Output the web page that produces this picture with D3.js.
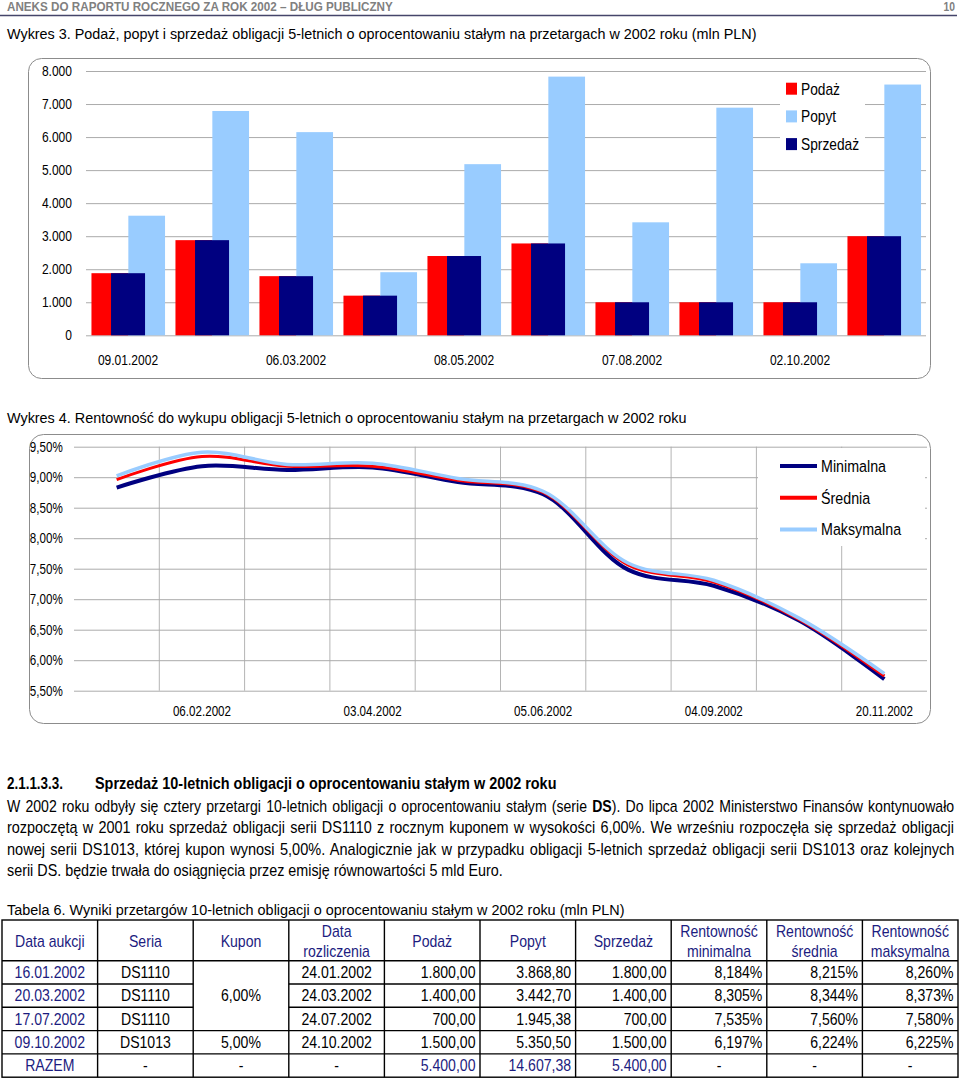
<!DOCTYPE html>
<html>
<head>
<meta charset="utf-8">
<script src="https://cdn.jsdelivr.net/npm/d3@7"></script>
<style>
body { margin: 0; background: #fff; }
svg { display: block; }
text { font-family: "Liberation Sans", Arial, sans-serif; }
</style>
</head>
<body>
<div id="page"></div>
<script>
// auction dates of 5-year bonds (both charts share them)
var dates = ["09.01.2002", "06.02.2002", "06.03.2002", "03.04.2002", "08.05.2002",
             "05.06.2002", "07.08.2002", "04.09.2002", "02.10.2002", "20.11.2002"];

// Wykres 3 (mln PLN)
var podaz    = [1880, 2880, 1790, 1200, 2400, 2780, 1000, 1000, 1000, 3000];
var popyt    = [3620, 6790, 6150, 1910, 5180, 7830, 3420, 6890, 2180, 7590];
var sprzedaz = [1880, 2880, 1790, 1200, 2400, 2780, 1000, 1000, 1000, 3000];
var barTicks = [0, 1000, 2000, 3000, 4000, 5000, 6000, 7000, 8000];

// Wykres 4 (%)
var rentMin = [8.83, 9.18, 9.12, 9.16, 8.92, 8.72, 7.48, 7.22, 6.65, 5.69];
var rentSr  = [8.96, 9.34, 9.18, 9.18, 8.95, 8.75, 7.56, 7.28, 6.67, 5.74];
var rentMax = [9.02, 9.41, 9.21, 9.23, 8.98, 8.77, 7.59, 7.31, 6.69, 5.78];
var rentTicks = [5.5, 6, 6.5, 7, 7.5, 8, 8.5, 9, 9.5];

// Tabela 6
var tabHeaders = [["Data aukcji"], ["Seria"], ["Kupon"], ["Data", "rozliczenia"], ["Podaż"],
                  ["Popyt"], ["Sprzedaż"], ["Rentowność", "minimalna"], ["Rentowność", "średnia"],
                  ["Rentowność", "maksymalna"]];
var tabDates   = ["16.01.2002", "20.03.2002", "17.07.2002", "09.10.2002"];
var tabSeria   = ["DS1110", "DS1110", "DS1110", "DS1013"];
var tabKupon   = ["6,00%", "5,00%"];   // first one spans the three DS1110 rows
var tabRozl    = ["24.01.2002", "24.03.2002", "24.07.2002", "24.10.2002"];
var tabPodaz   = [1800, 1400, 700, 1500];
var tabPopyt   = [3868.80, 3442.70, 1945.38, 5350.50];
var tabSprz    = [1800, 1400, 700, 1500];
var tabRMin    = [8.184, 8.305, 7.535, 6.197];
var tabRSr     = [8.215, 8.344, 7.560, 6.224];
var tabRMax    = [8.260, 8.373, 7.580, 6.225];

var para = [
  "W 2002 roku odbyły się cztery przetargi 10-letnich obligacji o oprocentowaniu stałym (serie |DS|). Do lipca 2002 Ministerstwo Finansów kontynuowało",
  "rozpoczętą w 2001 roku sprzedaż obligacji serii DS1110 z rocznym kuponem w wysokości 6,00%. We wrześniu rozpoczęła się sprzedaż obligacji",
  "nowej serii DS1013, której kupon wynosi 5,00%. Analogicznie jak w przypadku obligacji 5-letnich sprzedaż obligacji serii DS1013 oraz kolejnych",
  "serii DS. będzie trwała do osiągnięcia przez emisję równowartości 5 mld Euro."
];

var RED = "#ff0000", LBLUE = "#99ccff", NAVY = "#000080", TXTBLUE = "#1c1c80";
var SX = 0.86; // the page is set in a condensed face

var pl = d3.formatLocale({decimal: ",", thousands: ".", grouping: [3], currency: ["", " zł"]});
var fmtInt = pl.format(",d"), fmtMoney = pl.format(",.2f"), fmtPct = pl.format(".3f");

var svg = d3.select("#page").append("svg")
    .attr("width", 960)
    .attr("height", 1079);

function label(g, x, y, s, o) {
  o = o || {};
  return g.append("text")
      .attr("transform", "translate(" + x + "," + y + ") scale(" + (o.sx || SX) + ",1)")
      .attr("text-anchor", o.anchor || "start")
      .attr("font-size", o.size || 14)
      .attr("font-weight", o.weight || null)
      .attr("fill", o.fill || "#000")
      .text(s);
}

// squeeze a text line to width w; justified lines squeeze a bit less and widen the word gaps
function fitted(x, y, s, w, size, weight, fill, justify) {
  var t = svg.append("text")
      .attr("font-size", size)
      .attr("font-weight", weight || null)
      .attr("fill", fill || "#000");
  // parts between | | are bold
  s.split("|").forEach(function(part, i) {
    t.append("tspan").attr("font-weight", i % 2 ? "bold" : null).text(part);
  });
  var len = t.node().getComputedTextLength();
  var sx = w / len;
  if (justify) {
    sx = sx * 0.975;
    var gaps = s.split(" ").length - 1;
    t.attr("word-spacing", (w / sx - len) / gaps);
  }
  t.attr("transform", "translate(" + x + "," + y + ") scale(" + sx + ",1)");
  return t;
}

// ---------- page header ----------
fitted(7, 11, "ANEKS DO RAPORTU ROCZNEGO ZA ROK 2002 – DŁUG PUBLICZNY", 386, 12, "bold", "#808080");
label(svg, 955, 11, "10", {anchor: "end", size: 12, weight: "bold", fill: "#808080"});
svg.append("line").attr("x1", 0).attr("x2", 957).attr("y1", 15.5).attr("y2", 15.5)
    .attr("stroke", "#45456a").attr("stroke-width", 1.5);

// ---------- Wykres 3 ----------
fitted(7, 39, "Wykres 3. Podaż, popyt i sprzedaż obligacji 5-letnich o oprocentowaniu stałym na przetargach w 2002 roku (mln PLN)", 750, 15);

svg.append("rect").attr("x", 28.5).attr("y", 58.5).attr("width", 902).attr("height", 320)
    .attr("rx", 13).attr("fill", "none").attr("stroke", "#8c8c8c");

var c1 = svg.append("g");
var x1 = d3.scaleBand().domain(dates).range([86, 926]);
var y1 = d3.scaleLinear().domain([0, 8000]).range([335.3, 71]);

var ax1 = c1.append("g")
    .attr("transform", "translate(86,0)")
    .call(d3.axisLeft(y1).tickValues(barTicks).tickSize(-840).tickFormat(fmtInt));
ax1.select(".domain").remove();
ax1.selectAll("line").attr("stroke", "#ababab");
ax1.selectAll("text")
    .attr("x", -14 / SX).attr("transform", "scale(" + SX + ",1)")
    .attr("font-size", 14).attr("font-family", null).attr("fill", "#000");

var bx1 = c1.append("g")
    .attr("transform", "translate(0,335.3)")
    .call(d3.axisBottom(x1).tickValues(dates.filter(function(d, i) { return i % 2 == 0; }))
      .tickSize(0).tickPadding(19.7));
bx1.select(".domain").remove();
bx1.selectAll("text")
    .attr("transform", "scale(" + SX + ",1)")
    .attr("font-size", 14).attr("font-family", null).attr("fill", "#000");
bx1.selectAll(".tick").each(function() {
  var t = d3.select(this), tr = t.attr("transform");
  var xx = +tr.match(/translate\(([-\d.]+)/)[1];
  t.attr("transform", "translate(" + xx + ",0)");
  t.select("text").attr("x", 0);
});

var bw = x1.bandwidth();
var barSeries = [
  {vals: podaz,    color: RED,   off: 0.065, w: 0.435},
  {vals: popyt,    color: LBLUE, off: 0.504, w: 0.437},
  {vals: sprzedaz, color: NAVY,  off: 0.298, w: 0.405}
];
barSeries.forEach(function(s) {
  c1.append("g").selectAll("rect")
    .data(s.vals)
    .enter().append("rect")
      .attr("x", function(d, i) { return x1(dates[i]) + s.off * bw; })
      .attr("width", s.w * bw)
      .attr("y", function(d) { return y1(d); })
      .attr("height", function(d) { return y1(0) - y1(d); })
      .attr("fill", s.color);
});

// legend
c1.append("rect").attr("x", 780).attr("y", 74).attr("width", 85).attr("height", 80).attr("fill", "#fff");
[["Podaż", RED], ["Popyt", LBLUE], ["Sprzedaż", NAVY]].forEach(function(it, i) {
  var cy = 88.7 + i * 27.7;
  c1.append("rect").attr("x", 786).attr("y", cy - 6).attr("width", 11).attr("height", 12).attr("fill", it[1]);
  label(c1, 801, cy + 6, it[0], {size: 16});
});

// ---------- Wykres 4 ----------
fitted(7, 423, "Wykres 4. Rentowność do wykupu obligacji 5-letnich o oprocentowaniu stałym na przetargach w 2002 roku", 680, 15);

svg.append("rect").attr("x", 29.5).attr("y", 434.5).attr("width", 901).attr("height", 289)
    .attr("rx", 14).attr("fill", "none").attr("stroke", "#8c8c8c");

var c2 = svg.append("g");
var x2 = d3.scaleBand().domain(dates).range([74, 927]);
var y2 = d3.scaleLinear().domain([5.5, 9.5]).range([690.7, 446.7]);
var bw2 = x2.bandwidth();

c2.append("g").selectAll("line")
  .data(dates.slice(1))
  .enter().append("line")
    .attr("x1", function(d) { return x2(d); })
    .attr("x2", function(d) { return x2(d); })
    .attr("y1", y2(9.5)).attr("y2", y2(5.5))
    .attr("stroke", "#b4b4b4");

var ax2 = c2.append("g")
    .attr("transform", "translate(74,0)")
    .call(d3.axisLeft(y2).tickValues(rentTicks).tickSize(-853)
      .tickFormat(function(d) { return pl.format(".2f")(d) + "%"; }));
ax2.select(".domain").remove();
ax2.selectAll("line").attr("stroke", "#ababab");
ax2.selectAll("text")
    .attr("x", -11.3 / 0.8).attr("transform", "scale(0.8,1)")
    .attr("font-size", 14.5).attr("font-family", null).attr("fill", "#000");

var bx2 = c2.append("g")
    .attr("transform", "translate(0,690.7)")
    .call(d3.axisBottom(x2).tickValues(dates.filter(function(d, i) { return i % 2 == 1; }))
      .tickSize(0).tickPadding(15.8));
bx2.select(".domain").remove();
bx2.selectAll("text")
    .attr("transform", "scale(0.83,1)")
    .attr("font-size", 14).attr("font-family", null).attr("fill", "#000");
bx2.selectAll(".tick").each(function() {
  var t = d3.select(this), tr = t.attr("transform");
  var xx = +tr.match(/translate\(([-\d.]+)/)[1];
  t.attr("transform", "translate(" + xx + ",0)");
});

var line = d3.line()
    .x(function(d, i) { return x2(dates[i]) + bw2 / 2; })
    .y(function(d) { return y2(d); })
    .curve(d3.curveCatmullRom.alpha(0.5));

var lineSeries = [
  {name: "Minimalna", vals: rentMin, color: NAVY,  w: 4},
  {name: "Średnia",   vals: rentSr,  color: RED,   w: 3},
  {name: "Maksymalna", vals: rentMax, color: LBLUE, w: 3.5}
];
lineSeries.forEach(function(s) {
  c2.append("path")
      .datum(s.vals)
      .attr("d", line)
      .attr("fill", "none")
      .attr("stroke", s.color)
      .attr("stroke-width", s.w);
});

c2.append("rect").attr("x", 758).attr("y", 448).attr("width", 167).attr("height", 98).attr("fill", "#fff");
lineSeries.forEach(function(s, i) {
  var cy = 466 + i * 31.7;
  c2.append("line").attr("x1", 780).attr("x2", 817).attr("y1", cy).attr("y2", cy)
      .attr("stroke", s.color).attr("stroke-width", 4);
  label(c2, 821, cy + 6, s.name, {size: 17, sx: 0.84});
});

// ---------- section text ----------
fitted(7, 789, "2.1.1.3.3.", 56, 16, "bold");
fitted(95, 789, "Sprzedaż 10-letnich obligacji o oprocentowaniu stałym w 2002 roku", 462, 16, "bold");
para.forEach(function(s, i) {
  if (i < 3) fitted(7, 812 + i * 21.3, s, 948, 16, null, null, true);
  else fitted(7, 812 + i * 21.3, s, 496, 16);
});

// ---------- Tabela 6 ----------
fitted(7, 915, "Tabela 6. Wyniki przetargów 10-letnich obligacji o oprocentowaniu stałym w 2002 roku (mln PLN)", 618, 15);

var tg = svg.append("g");
var col = d3.scaleBand().domain(d3.range(10)).range([2, 958]);
var cw = col.bandwidth();
var rowTop = 960.7, rowH = 23.3, tabTop = 920, nRows = 5;
var tabBottom = rowTop + nRows * rowH;

tg.append("rect").attr("x", 2).attr("y", tabTop).attr("width", 956).attr("height", tabBottom - tabTop)
    .attr("fill", "none").attr("stroke", "#000").attr("stroke-width", 1.4);
tg.selectAll(".vl").data(d3.range(1, 10)).enter().append("line")
    .attr("x1", function(d) { return col(d); }).attr("x2", function(d) { return col(d); })
    .attr("y1", tabTop).attr("y2", tabBottom)
    .attr("stroke", "#000").attr("stroke-width", 1.4);
d3.range(nRows).forEach(function(r) {
  var yy = rowTop + r * rowH;
  var merged = (r == 1 || r == 2);
  [[2, merged ? col(2) : 958], merged ? [col(3), 958] : null].forEach(function(seg) {
    if (!seg) return;
    tg.append("line").attr("x1", seg[0]).attr("x2", seg[1]).attr("y1", yy).attr("y2", yy)
        .attr("stroke", "#000").attr("stroke-width", 1.4);
  });
});

var TS = 16, TSX = 0.88;
tabHeaders.forEach(function(h, i) {
  var cx = col(i) + cw / 2;
  if (h.length == 1) {
    label(tg, cx, 946.5, h[0], {anchor: "middle", size: TS, sx: TSX, fill: TXTBLUE});
  } else {
    label(tg, cx, 936.5, h[0], {anchor: "middle", size: TS, sx: TSX, fill: TXTBLUE});
    label(tg, cx, 956.5, h[1], {anchor: "middle", size: TS, sx: TSX, fill: TXTBLUE});
  }
});

function cell(r, c, s, how, fill) {
  var yy = rowTop + r * rowH + rowH / 2 + 5.7;
  if (how == "end") label(tg, col(c) + cw - 4.5, yy, s, {anchor: "end", size: TS, sx: TSX, fill: fill});
  else label(tg, col(c) + cw / 2, yy, s, {anchor: "middle", size: TS, sx: TSX, fill: fill});
}

tabDates.forEach(function(d, r) {
  cell(r, 0, d, "middle", TXTBLUE);
  cell(r, 1, tabSeria[r], "middle");
  cell(r, 3, tabRozl[r], "middle");
  cell(r, 4, fmtMoney(tabPodaz[r]), "end");
  cell(r, 5, fmtMoney(tabPopyt[r]), "end");
  cell(r, 6, fmtMoney(tabSprz[r]), "end");
  cell(r, 7, fmtPct(tabRMin[r]) + "%", "end");
  cell(r, 8, fmtPct(tabRSr[r]) + "%", "end");
  cell(r, 9, fmtPct(tabRMax[r]) + "%", "end");
});
label(tg, col(2) + cw / 2, rowTop + 1.5 * rowH + 5.7, tabKupon[0], {anchor: "middle", size: TS, sx: TSX});
cell(3, 2, tabKupon[1], "middle");

// RAZEM row
cell(4, 0, "RAZEM", "middle", TXTBLUE);
[1, 2, 3, 7, 8, 9].forEach(function(c) { cell(4, c, "-", "middle"); });
cell(4, 4, fmtMoney(d3.sum(tabPodaz)), "end", TXTBLUE);
cell(4, 5, fmtMoney(d3.sum(tabPopyt)), "end", TXTBLUE);
cell(4, 6, fmtMoney(d3.sum(tabSprz)), "end", TXTBLUE);
</script>
</body>
</html>
